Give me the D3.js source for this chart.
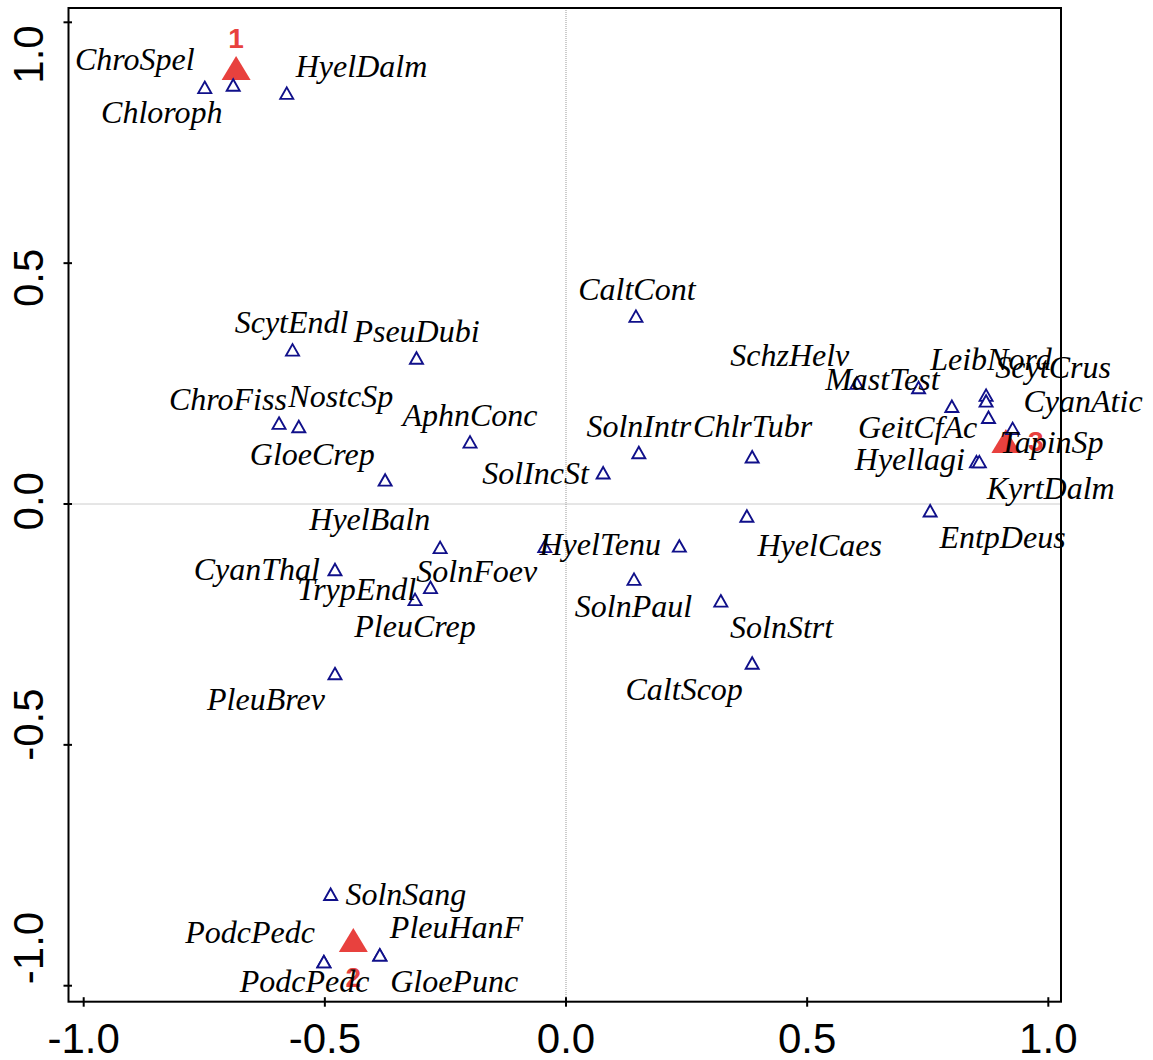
<!DOCTYPE html>
<html>
<head>
<meta charset="utf-8">
<script src="https://cdn.jsdelivr.net/npm/d3@7"></script>
<style>
  html, body { margin: 0; padding: 0; background: #fff; }
  svg { display: block; }
</style>
</head>
<body>
<svg id="chart" width="1153" height="1060"></svg>
<script>
// ---- data ----
const speciesNames = ["ChroSpel","Chloroph","HyelDalm","SchzHelv","MastTest","LeibNord","ScytCrus","CyanAtic","GeitCfAc","TapinSp","Hyellagi","KyrtDalm","EntpDeus","CaltCont","SolnIntr","ChlrTubr","SolIncSt","HyelCaes","HyelTenu","SolnPaul","SolnStrt","CaltScop","ScytEndl","PseuDubi","ChroFiss","NostcSp","AphnConc","GloeCrep","HyelBaln","TrypEndl","CyanThal","SolnFoev","PleuCrep","PleuBrev","SolnSang","PodcPedc","PodcPedc","PleuHanF","GloePunc"];
const speciesX = [-0.749,-0.690,-0.579,0.603,0.731,0.800,0.871,0.871,0.876,0.926,0.851,0.857,0.755,0.145,0.151,0.386,0.077,0.375,0.235,0.141,0.321,0.386,-0.567,-0.310,-0.595,-0.554,-0.199,-0.375,-0.261,-0.044,-0.479,-0.281,-0.313,-0.479,-0.488,-0.502,-0.502,-0.386,-0.386];
const speciesY = [0.865,0.870,0.853,0.251,0.242,0.203,0.226,0.214,0.180,0.157,0.088,0.088,-0.014,0.390,0.107,0.098,0.065,-0.025,-0.087,-0.156,-0.201,-0.330,0.320,0.303,0.168,0.161,0.129,0.050,-0.090,-0.088,-0.136,-0.173,-0.198,-0.352,-0.810,-0.950,-0.950,-0.936,-0.936];
// label anchor (centre x, baseline y) in data units
const labelX = [-0.894,-0.838,-0.424,0.464,0.656,0.881,1.010,1.072,0.729,1.007,0.713,1.005,0.905,0.147,0.151,0.387,-0.063,0.526,0.071,0.140,0.447,0.245,-0.569,-0.310,-0.701,-0.467,-0.199,-0.526,-0.407,-0.434,-0.641,-0.185,-0.313,-0.622,-0.332,-0.655,-0.542,-0.227,-0.232];
const labelY = [0.900,0.792,0.886,0.287,0.237,0.278,0.261,0.192,0.136,0.105,0.071,0.010,-0.092,0.424,0.140,0.140,0.042,-0.107,-0.106,-0.234,-0.279,-0.407,0.355,0.337,0.195,0.202,0.161,0.081,-0.054,-0.199,-0.158,-0.161,-0.276,-0.428,-0.833,-0.912,-1.013,-0.900,-1.013];

const centroidNames = ["1","2","3"];
const centroidX = [-0.684,-0.441,0.912];
const centroidY = [0.905,-0.905,0.131];
const centroidLabelPos = ["above","below","right"];

const xTicks = [-1.0,-0.5,0.0,0.5,1.0];
const xTickLabels = ["-1.0","-0.5","0.0","0.5","1.0"];
const yTicks = [-1.0,-0.5,0.0,0.5,1.0];
const yTickLabels = ["-1.0","-0.5","0.0","0.5","1.0"];

// ---- layout ----
const svg = d3.select("#chart");
const L = 68.5, R = 1061, T = 8, B = 1001.7;
const x = d3.scaleLinear().domain([-1.0315, 1.0263]).range([L, R]);
const y = d3.scaleLinear().domain([-1.0332, 1.0297]).range([B, T]);
const yLab = d3.scaleLinear().domain([-1, 1]).range([948, 54.5]);

// zero lines
svg.append("line").attr("x1", x(0)).attr("x2", x(0)).attr("y1", T).attr("y2", B)
  .attr("stroke", "#999").attr("stroke-width", 1).attr("stroke-dasharray", "1,1");
svg.append("line").attr("x1", L).attr("x2", R).attr("y1", y(0)).attr("y2", y(0))
  .attr("stroke", "#999").attr("stroke-width", 1).attr("stroke-dasharray", "1,1");

function tri(hw, h) {
  return `M0,${-h/2}L${hw},${h/2}L${-hw},${h/2}Z`;
}

// centroids
const cent = centroidNames.map((n, i) => ({n, x: centroidX[i], y: centroidY[i], p: centroidLabelPos[i]}));
svg.append("g").selectAll("path").data(cent).join("path")
  .attr("d", tri(14.5, 24))
  .attr("transform", d => `translate(${x(d.x)},${y(d.y)})`)
  .attr("fill", "#e8413e");
svg.append("g").selectAll("text").data(cent).join("text")
  .attr("x", d => x(d.x) + (d.p === "right" ? 30 : 0))
  .attr("y", d => y(d.y) + (d.p === "above" ? -30 : d.p === "below" ? 37 : 0))
  .attr("dy", "0.35em")
  .attr("text-anchor", "middle")
  .attr("font-family", "'Liberation Sans', Arial, sans-serif")
  .attr("font-weight", "bold")
  .attr("font-size", 28)
  .attr("fill", "#e8413e")
  .text(d => d.n);

// species points
const sp = speciesNames.map((n, i) => ({n, x: speciesX[i], y: speciesY[i], lx: labelX[i], ly: labelY[i]}));
svg.append("g").selectAll("path").data(sp).join("path")
  .attr("d", tri(6.5, 11.5))
  .attr("transform", d => `translate(${x(d.x)},${y(d.y)})`)
  .attr("fill", "#fff")
  .attr("stroke", "#10108a")
  .attr("stroke-width", 1.9)
  .attr("stroke-linejoin", "miter");

// species labels
svg.append("g").selectAll("text").data(sp).join("text")
  .attr("x", d => x(d.lx))
  .attr("y", d => y(d.ly))
  .attr("text-anchor", "middle")
  .attr("font-family", "'Liberation Serif', 'Times New Roman', serif")
  .attr("font-style", "italic")
  .attr("font-size", 32)
  .attr("fill", "#000")
  .text(d => d.n);

// box
svg.append("rect").attr("x", L).attr("y", T).attr("width", R - L).attr("height", B - T)
  .attr("fill", "none").attr("stroke", "#000").attr("stroke-width", 2);

// x axis ticks & labels
const gx = svg.append("g");
gx.selectAll("line").data(xTicks).join("line")
  .attr("x1", d => x(d)).attr("x2", d => x(d))
  .attr("y1", B - 4.5).attr("y2", B + 5)
  .attr("stroke", "#000").attr("stroke-width", 2);
gx.selectAll("text").data(xTicks).join("text")
  .attr("x", d => x(d)).attr("y", 1053)
  .attr("text-anchor", "middle")
  .attr("font-family", "'Liberation Sans', Arial, sans-serif")
  .attr("font-size", 42)
  .attr("fill", "#000")
  .text((d, i) => xTickLabels[i]);

// y axis ticks & labels
const gy = svg.append("g");
gy.selectAll("line").data(yTicks).join("line")
  .attr("y1", d => y(d)).attr("y2", d => y(d))
  .attr("x1", L - 5).attr("x2", L + 3.5)
  .attr("stroke", "#000").attr("stroke-width", 2);
gy.selectAll("text").data(yTicks).join("text")
  .attr("transform", d => `translate(43,${yLab(d)}) rotate(-90)`)
  .attr("text-anchor", "middle")
  .attr("font-family", "'Liberation Sans', Arial, sans-serif")
  .attr("font-size", 42)
  .attr("fill", "#000")
  .text((d, i) => yTickLabels[i]);
</script>
</body>
</html>
